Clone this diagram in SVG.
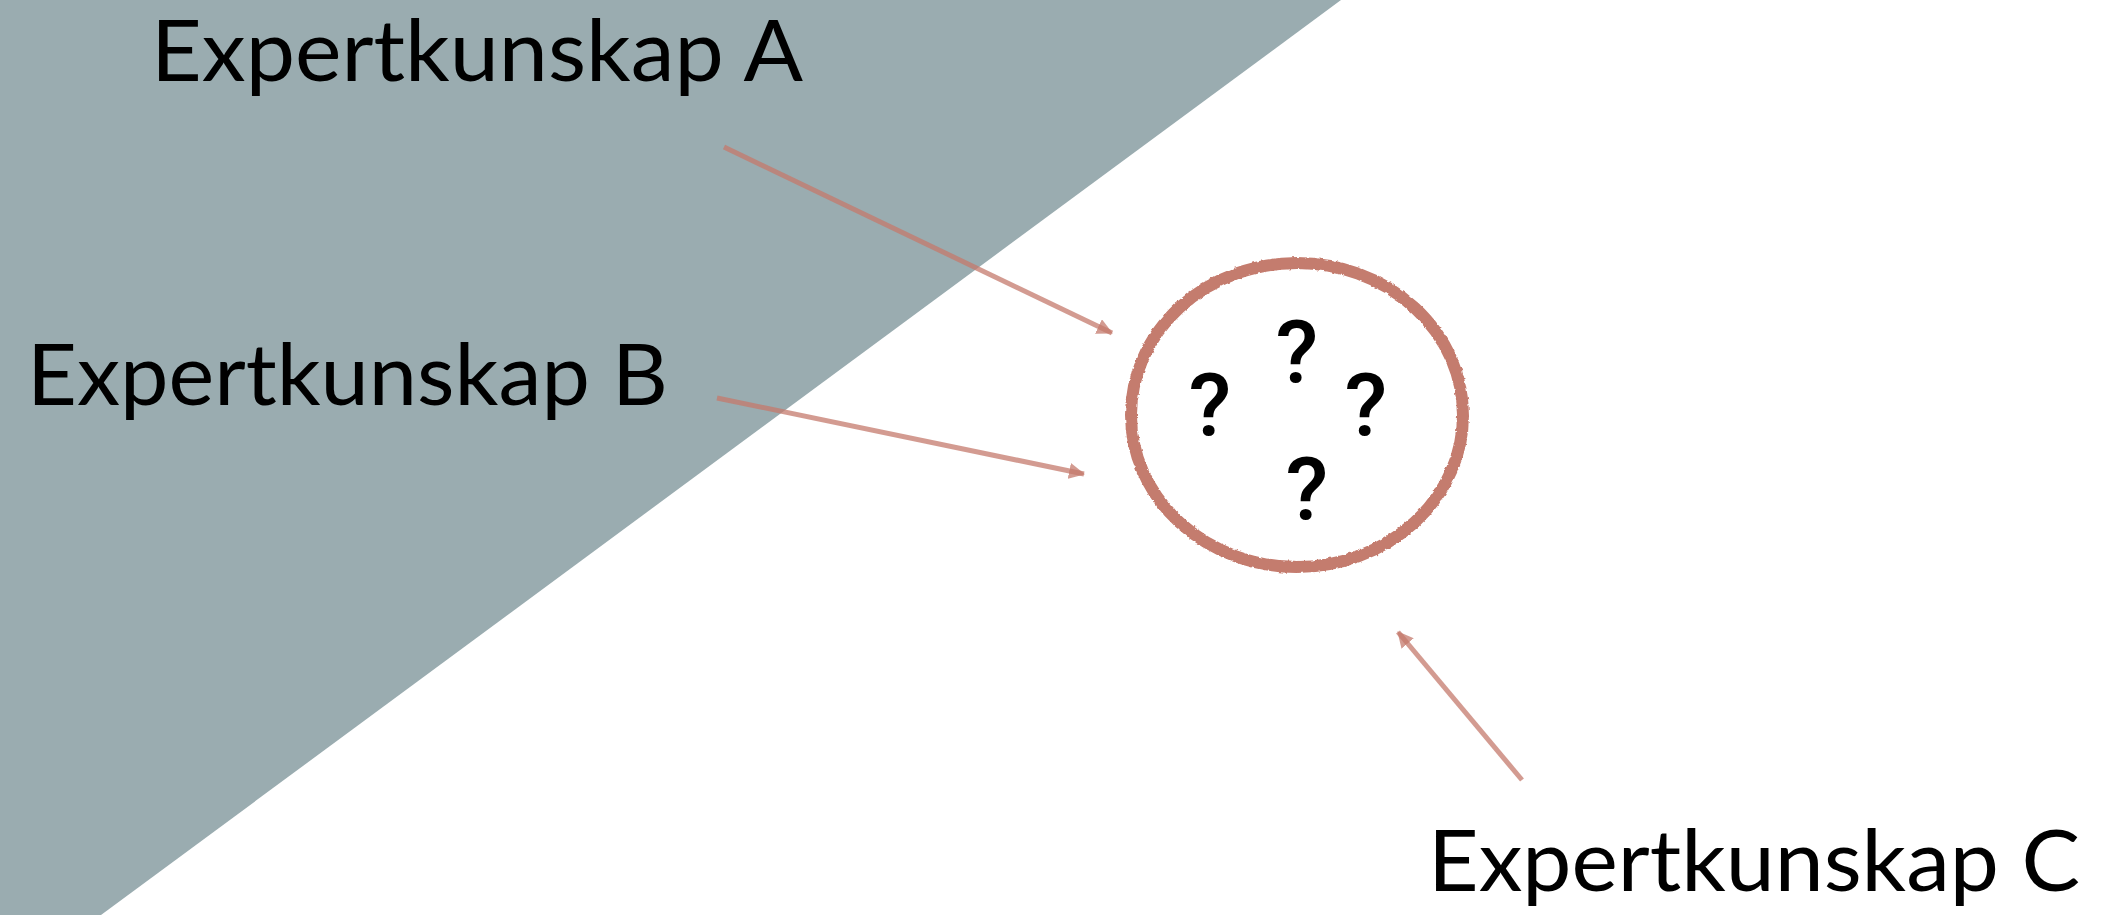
<svg xmlns="http://www.w3.org/2000/svg" width="2113" height="915" viewBox="0 0 2113 915">
  <style>
    .label { font-family: Lato, "Noto Sans", "Liberation Sans", sans-serif; font-size: 85px; fill: #000; }
    .q { font-family: Roboto, "Liberation Sans", Arial, sans-serif; font-weight: 500; font-size: 88px; fill: #000; text-anchor: middle; }
    .conn { stroke: #c47a6c; stroke-opacity: 0.75; stroke-width: 5; fill: none; }
  </style>
  <defs>
    <marker id="arrow" markerUnits="userSpaceOnUse" viewBox="0 0 16 16" refX="15" refY="8" markerWidth="16" markerHeight="16" orient="auto">
      <path d="M0,0 L16,8 L0,16 z" fill="#c47a6c" fill-opacity="0.75"/>
    </marker>
    <filter id="brush" x="-10%" y="-10%" width="120%" height="120%">
      <feTurbulence type="fractalNoise" baseFrequency="0.25" numOctaves="2" seed="5" result="n"/>
      <feDisplacementMap in="SourceGraphic" in2="n" scale="3" xChannelSelector="R" yChannelSelector="G" result="d"/>
      <feGaussianBlur in="d" stdDeviation="0.6"/>
    </filter>
  </defs>
  <rect width="2113" height="915" fill="#ffffff"/>
  <polygon id="background" points="0,0 1341,0 101,915 0,915" fill="#9aacb0"/>

  <g id="label-a"><text class="label" x="151" y="81" textLength="652" lengthAdjust="spacingAndGlyphs">Expertkunskap A</text></g>
  <g id="label-b"><text class="label" x="27" y="405" textLength="641" lengthAdjust="spacingAndGlyphs">Expertkunskap B</text></g>
  <g id="label-c"><text class="label" x="1428" y="891" textLength="652" lengthAdjust="spacingAndGlyphs">Expertkunskap C</text></g>

  <g id="circle">
    <ellipse cx="1297" cy="415" rx="166" ry="152" fill="none" stroke="#c47b6e" stroke-width="12" filter="url(#brush)"/>
    <text class="q" x="1297" y="382">?</text>
    <text class="q" x="1210" y="435">?</text>
    <text class="q" x="1366" y="435">?</text>
    <text class="q" x="1307" y="519">?</text>
  </g>

  <g id="connectors">
    <line class="conn" x1="724" y1="147" x2="1112" y2="333" marker-end="url(#arrow)"/>
    <line class="conn" x1="717" y1="398" x2="1084" y2="474" marker-end="url(#arrow)"/>
    <line class="conn" x1="1522" y1="780" x2="1398" y2="632" marker-end="url(#arrow)"/>
  </g>
</svg>
